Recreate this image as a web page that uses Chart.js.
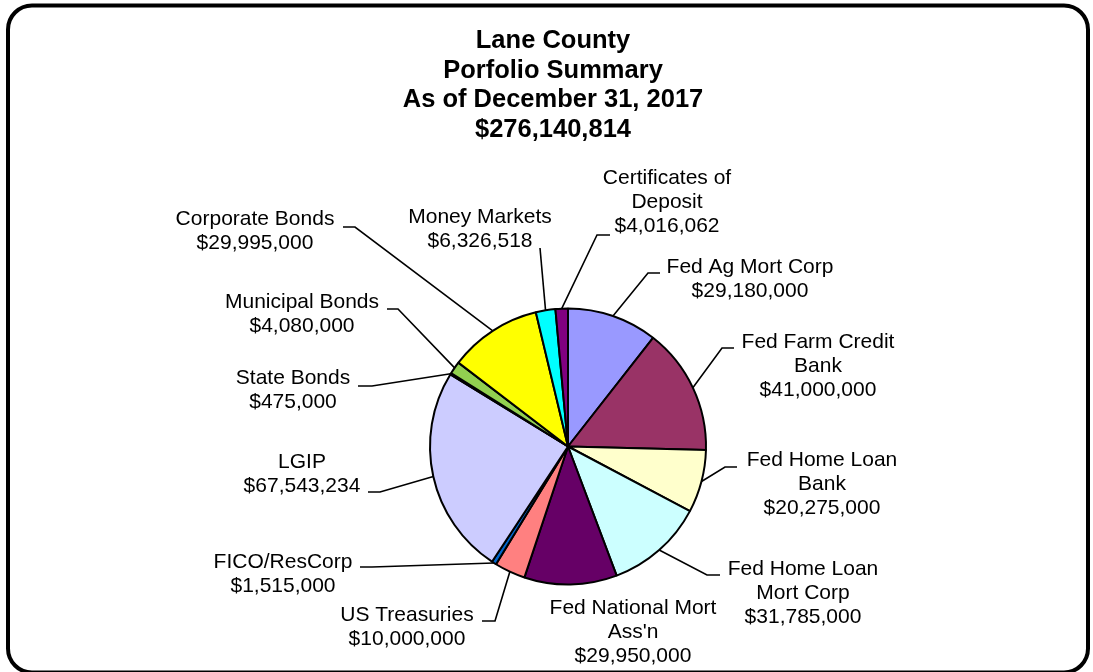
<!DOCTYPE html>
<html>
<head>
<meta charset="utf-8">
<script src="https://cdn.jsdelivr.net/npm/chart.js@4/dist/chart.umd.min.js"></script>
<style>
html,body{margin:0;padding:0;background:#fff;}
#wrap{width:1093px;height:672px;position:relative;}
</style>
</head>
<body>
<div id="wrap"><canvas id="pie"></canvas></div>
<script>

// -----------------------------
// DATA
// -----------------------------

const titleLines = ["Lane County","Porfolio Summary","As of December 31, 2017","$276,140,814"];

const categories = [
"Fed Ag Mort Corp",
"Fed Farm Credit Bank",
"Fed Home Loan Bank",
"Fed Home Loan Mort Corp",
"Fed National Mort Ass'n",
"US Treasuries",
"FICO/ResCorp",
"LGIP",
"State Bonds",
"Municipal Bonds",
"Corporate Bonds",
"Money Markets",
"Certificates of Deposit"
];

const amounts = [
29180000,
41000000,
20275000,
31785000,
29950000,
10000000,
1515000,
67543234,
475000,
4080000,
29995000,
6326518,
4016062
];

const sliceColors = [
"#9999FF","#993366","#FFFFCC","#CCFFFF","#660066","#FF8080","#0066CC",
"#CCCCFF","#000080","#92D050","#FFFF00","#00FFFF","#800080"
];

// label placement: text centre, elbow of leader, end of short horizontal, wrap width
const labelSpots = [
{x:750,y:267,ex:648,ey:273,hx:660,wrap:200},
{x:818,y:342,ex:722,ey:348,hx:734,wrap:170},
{x:822,y:460,ex:725,ey:467,hx:737,wrap:170},
{x:803,y:569,ex:707,ey:575,hx:720,wrap:170},
{x:633,y:608,wrap:190},
{x:407,y:615,ex:495,ey:621,hx:482,wrap:200},
{x:283,y:562,ex:372,ey:567,hx:360,wrap:200},
{x:302,y:462,ex:380,ey:492,hx:368,wrap:200},
{x:293,y:378,ex:372,ey:386,hx:358,wrap:200},
{x:302,y:302,ex:398,ey:309,hx:387,wrap:200},
{x:255,y:219,ex:355,ey:227,hx:343,wrap:200},
{x:480,y:217,ex:540,ey:248,hx:540,wrap:200},
{x:667,y:178,ex:597,ey:235,hx:610,wrap:150}
];

// -----------------------------
// HELPERS
// -----------------------------

function money(v){
return "$"+v.toLocaleString("en-US");
}

function wrapText(ctx,text,maxW){
const words=text.split(" ");
const lines=[];
let cur="";
words.forEach(w=>{
let test=cur?cur+" "+w:w;
if(ctx.measureText(test).width>maxW && cur){
lines.push(cur);
cur=w;
}else{
cur=test;
}
});
if(cur) lines.push(cur);
return lines;
}

// -----------------------------
// PLUGINS
// -----------------------------

const frameAndTitle = {
id:"frameAndTitle",
beforeDraw(chart){
const ctx=chart.ctx;
ctx.save();
ctx.fillStyle="#fff";
ctx.fillRect(0,0,chart.width,chart.height);
ctx.restore();
},
afterDraw(chart){
const ctx=chart.ctx;
ctx.save();

// rounded border
ctx.strokeStyle="#000";
ctx.lineWidth=4;
ctx.beginPath();
ctx.roundRect(8,5.5,1080,667,24);
ctx.stroke();

// title
ctx.fillStyle="#000";
ctx.font="bold 25.5px 'Liberation Sans', Arial, sans-serif";
ctx.textAlign="center";
ctx.textBaseline="middle";
titleLines.forEach((t,i)=>{
ctx.fillText(t,553,41+i*29.5);
});

ctx.restore();
}
};

const leaderLabels = {
id:"leaderLabels",
afterDatasetsDraw(chart){
const ctx=chart.ctx;
const arcs=chart.getDatasetMeta(0).data;
ctx.save();
ctx.font="21px 'Liberation Sans', Arial, sans-serif";
ctx.fillStyle="#000";
ctx.strokeStyle="#000";
ctx.lineWidth=1.6;
ctx.textAlign="center";
ctx.textBaseline="middle";

arcs.forEach((arc,i)=>{
const spot=labelSpots[i];
const p=arc.getProps(["x","y","startAngle","endAngle","outerRadius"],true);
const mid=(p.startAngle+p.endAngle)/2;
const ax=p.x+Math.cos(mid)*p.outerRadius;
const ay=p.y+Math.sin(mid)*p.outerRadius;

if(spot.ex!==undefined){
ctx.beginPath();
ctx.moveTo(ax,ay);
ctx.lineTo(spot.ex,spot.ey);
ctx.lineTo(spot.hx,spot.ey);
ctx.stroke();
}

const lines=wrapText(ctx,categories[i],spot.wrap);
lines.push(money(amounts[i]));
lines.forEach((l,k)=>{
ctx.fillText(l,spot.x,spot.y+k*24);
});
});

ctx.restore();
}
};

// -----------------------------
// CHART
// -----------------------------

new Chart(document.getElementById("pie").getContext("2d"),{
type:"pie",
data:{
labels:categories,
datasets:[{
data:amounts,
backgroundColor:sliceColors,
borderColor:"#000",
borderWidth:2
}]
},
options:{
responsive:true,
maintainAspectRatio:false,
animation:false,
layout:{padding:{left:429,right:386,top:307,bottom:86}},
plugins:{
legend:{display:false},
tooltip:{enabled:false}
}
},
plugins:[frameAndTitle,leaderLabels]
});

</script>
</body>
</html>
